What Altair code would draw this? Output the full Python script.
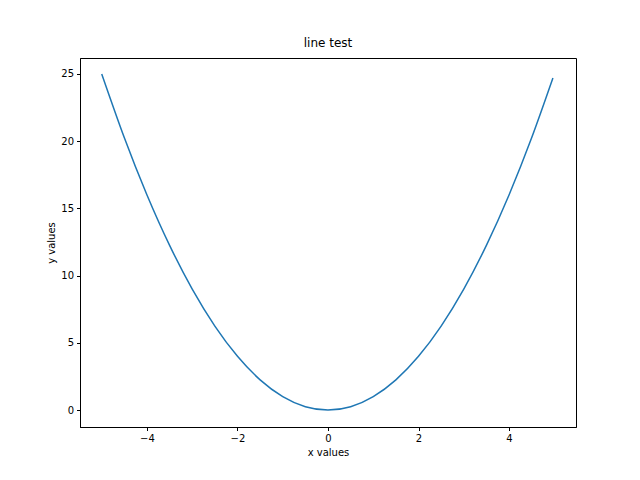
import altair as alt
import pandas as pd

# values
xs = [-5.0, -4.5, -4.0, -3.5, -3.0, -2.5, -2.0, -1.5, -1.0, -0.5, 0.0,
      0.5, 1.0, 1.5, 2.0, 2.5, 3.0, 3.5, 4.0, 4.5, 4.97]
ys = [25.0, 20.25, 16.0, 12.25, 9.0, 6.25, 4.0, 2.25, 1.0, 0.25, 0.0,
      0.25, 1.0, 2.25, 4.0, 6.25, 9.0, 12.25, 16.0, 20.25, 24.7]

df = pd.DataFrame({"x": xs, "y": ys})

axis_style = dict(grid=False, domainColor="black", tickColor="black",
                  labelColor="black", titleColor="black", labelFont="DejaVu Sans",
                  titleFont="DejaVu Sans", labelFontSize=10, titleFontSize=10,
                  titleFontWeight="normal", tickSize=3.5, labelPadding=3)

chart = (
    alt.Chart(df)
    .mark_line(color="#1f77b4", strokeWidth=1.5, interpolate="natural")
    .encode(
        x=alt.X("x:Q", title="x values",
                scale=alt.Scale(domain=[-5.48, 5.48], nice=False, zero=False),
                axis=alt.Axis(values=[-4, -2, 0, 2, 4], **axis_style)),
        y=alt.Y("y:Q", title="y values",
                scale=alt.Scale(domain=[-1.26, 26.19], nice=False, zero=False),
                axis=alt.Axis(values=[0, 5, 10, 15, 20, 25], **axis_style)),
    )
    .properties(
        width=496, height=369,
        title=alt.Title("line test", font="DejaVu Sans", fontSize=12,
                        fontWeight="normal", color="black", offset=8),
        autosize=alt.AutoSizeParams(type="none"),
        padding={"left": 72, "top": 50, "right": 56, "bottom": 45},
    )
    .configure_view(stroke="black", strokeWidth=1)
)

chart.save("out.html", embed_options={"renderer": "svg", "actions": False})
